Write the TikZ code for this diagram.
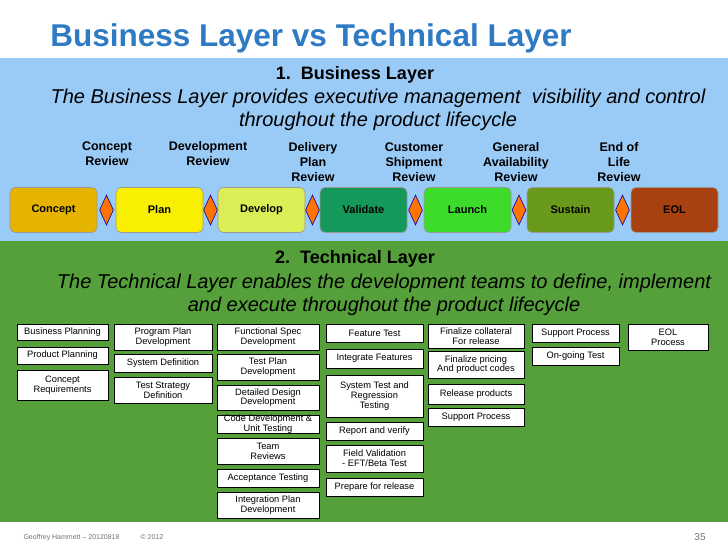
\documentclass[tikz,border=0pt]{standalone}
\usepackage{fontspec}
\setmainfont{Liberation Sans}
\usetikzlibrary{shapes.geometric,calc}
\definecolor{ttl}{HTML}{2E7BC4}
\definecolor{lblue}{HTML}{9ACBF7}
\definecolor{grn}{HTML}{55A03A}
\tikzset{
 tb/.style={draw=black,fill=white,line width=0.5pt,align=center,font=\fontsize{9.3}{9.8}\selectfont,inner sep=0pt},
 ph/.style={rounded corners=5pt,draw=black!40,line width=0.6pt,font=\bfseries\fontsize{11}{12}\selectfont},
 rv/.style={align=center,font=\bfseries\fontsize{12.5}{15}\selectfont},
 dm/.style={diamond,fill=orange!90!red,draw=blue!70!black,line width=0.6pt,minimum width=14pt,minimum height=30pt,inner sep=0pt,aspect=0.45},
 it/.style={align=center,font=\itshape\fontsize{20}{23}\selectfont}
}
\begin{document}
\begin{tikzpicture}[x=1pt,y=-1pt]
\useasboundingbox (0,0) rectangle (728,546);
\fill[white] (0,0) rectangle (728,546);
\fill[lblue] (0,58) rectangle (728,241);
\fill[grn] (0,241) rectangle (728,522);
\node[font=\bfseries\fontsize{31.5}{32}\selectfont,text=ttl] (title) at (311,38) {Business Layer vs Technical Layer};
\node[font=\bfseries\fontsize{18}{20}\selectfont] (h1) at (355,75) {1.\ \ Business Layer};
\node[it] (d1) at (378,110) {The Business Layer provides executive management\ \ visibility and control\\throughout the product lifecycle};
\node[rv] (r1) at (107,154) {Concept\\Review};
\node[rv] (r2) at (208,154) {Development\\Review};
\node[rv] (r3) at (313,162) {Delivery\\Plan\\Review};
\node[rv] (r4) at (414,162) {Customer\\Shipment\\Review};
\node[rv] (r5) at (516,162) {General\\Availability\\Review};
\node[rv] (r6) at (619,162) {End of\\Life\\Review};
\foreach \n/\a/\b/\c/\t in {p1/10/97/E6B400/Concept, p2/116/203/F8F000/Plan, p3/218/305/DCEE55/Develop, p4/320/407/14995A/Validate, p5/424/511/3DDB2A/Launch, p6/527/614/6A9A1C/Sustain, p7/631/718/A8400F/EOL}{
 \definecolor{c\n}{HTML}{\c}
 \node[ph,fill=c\n,minimum width={\b-\a},minimum height=45] (\n) at ({(\a+\b)/2},210) {\t};
}
\foreach \i/\j in {p1/p2,p2/p3,p3/p4,p4/p5,p5/p6,p6/p7}{
 \node[dm] (d\i) at ($(\i.east)!0.5!(\j.west)$) {};
}
\node[font=\bfseries\fontsize{18}{20}\selectfont] (h2) at (355,259) {2.\ \ Technical Layer};
\node[it] (d2) at (384,295) {The Technical Layer enables the development teams to define, implement\\and execute throughout the product lifecycle};
\foreach \n/\a/\b/\c/\d/\t in {
 a1/17/108/324/340/{Business Planning},
 a2/17/108/347/364/{Product Planning},
 a3/17/108/370/400/{Concept\\Requirements},
 b1/114/212/324/350/{Program Plan\\Development},
 b2/114/212/354/372/{System Definition},
 b3/114/212/377/403/{Test Strategy\\Definition},
 c1/217/319/324/350/{Functional Spec\\Development},
 c2/217/319/354/380/{Test Plan\\Development},
 c3/217/319/385/410/{Detailed Design\\Development},
 c4/217/319/415/433/{Code Development \&\\Unit Testing},
 c5/217/319/438/464/{Team\\Reviews},
 c6/217/319/469/487/{Acceptance Testing},
 c7/217/319/492/518/{Integration Plan\\Development},
 e1/326/423/324/342/{Feature Test},
 e2/326/423/349/368/{Integrate Features},
 e3/326/423/375/417/{System Test and\\Regression\\Testing},
 e4/326/423/422/440/{Report and verify},
 e5/326/423/445/472/{Field Validation\\- EFT/Beta Test},
 e6/326/423/478/496/{Prepare for release},
 f1/428/524/324/348/{Finalize collateral\\For release},
 f2/428/524/351/378/{Finalize pricing\\And product codes},
 f3/428/524/384/404/{Release products},
 f4/428/524/408/426/{Support Process},
 g1/532/619/324/342/{Support Process},
 g2/532/619/347/365/{On-going Test},
 h1b/628/708/324/350/{EOL\\Process}}{
 \node[tb,minimum width={\b-\a},minimum height={\d-\c}] (\n) at ({(\a+\b)/2},{(\c+\d)/2}) {\t};
}
\node[font=\fontsize{7}{8}\selectfont,text=black!55,anchor=west] (ft) at (20,538) {Geoffrey Hammett -- 20120818\qquad\quad © 2012};
\node[font=\fontsize{10}{11}\selectfont,text=black!55] (pg) at (700,537) {35};
\end{tikzpicture}
\end{document}
